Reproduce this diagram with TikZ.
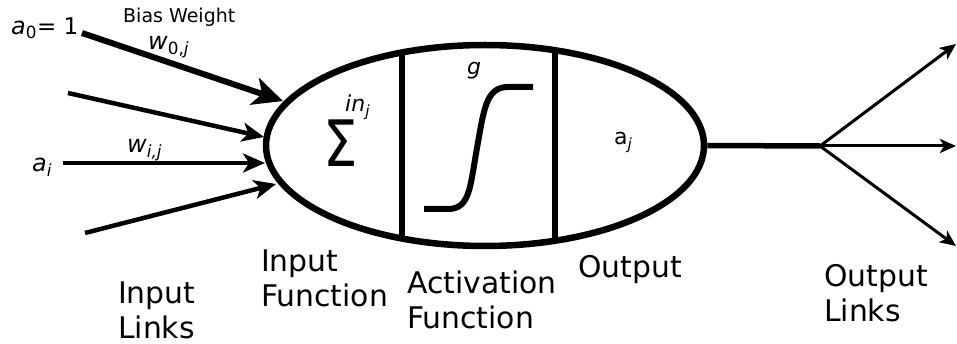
\documentclass[tikz,border=0pt]{standalone}
\usepackage{fontspec}
\setmainfont{DejaVu Sans}
\usetikzlibrary{arrows.meta,shapes.geometric}
\newcommand\fs[1]{\fontsize{#1}{#1}\selectfont}
\tikzset{
  lbl/.style={inner sep=0pt, anchor=base west, align=left, font=\fontsize{29.8}{35}\selectfont},
  var/.style={inner sep=0pt, anchor=base west, font=\fs{24}},
  inbig/.style={line width=6pt, -{Stealth[length=30pt,width=28pt,inset=8pt]}},
  inarr/.style={line width=4.5pt, -{Stealth[length=22pt,width=19pt,inset=6pt]}},
  outarr/.style={line width=3pt, -{Stealth[length=16pt,width=14pt,inset=4pt]}},
  divider/.style={line width=5.5pt},
}
\begin{document}
\begin{tikzpicture}[x=1pt,y=-1pt]
\useasboundingbox (0,0) rectangle (957,344);
% neuron body
\node[ellipse, draw, line width=6.5pt, minimum width=438pt, minimum height=201pt, inner sep=0pt] (neuron) at (485,145.5) {};
\draw[divider] (402,51.5) -- (402,238.5);
\draw[divider] (555,49.2) -- (555,240.8);
% sigmoid
\draw[line width=6pt, line cap=butt] (424,209) -- (448,209) .. controls (470,209) and (470,187) .. (477,148) .. controls (484,109) and (486,87) .. (508,87) -- (533,87);
% inner labels
\node[inner sep=0pt, anchor=base west, font=\fs{64}] (sigma) at (323,167) {\scalebox{0.85}[1]{Σ}};
\node[var, font=\fs{22}] (inj) at (345,112) {\textit{in}\textsubscript{\textit{j}}};
\node[var, font=\fs{22}] (g) at (467,75) {\textit{g}};
\node[var, font=\fs{22}] (aj) at (614,145) {a\textsubscript{\textit{j}}};
% input coordinates
\coordinate (s0) at (82,33);
\coordinate (s1) at (68,93);
\coordinate (s2) at (63,163);
\coordinate (s3) at (85,233);
\coordinate (t0) at (283,101);
\coordinate (t1) at (264,137);
\coordinate (t2) at (265,163);
\coordinate (t3) at (276,184);
\draw[inbig] (s0) -- (t0);
\draw[inarr] (s1) -- (t1);
\draw[inarr] (s2) -- (t2);
\draw[inarr] (s3) -- (t3);
% input labels
\node[var] (a0) at (11,35) {\textit{a}\textsubscript{0}\fs{23}= 1};
\node[inner sep=0pt, anchor=base west, font=\fs{19}] (bias) at (123,23) {Bias Weight};
\node[var] (w0) at (148,50) {\textit{w}\textsubscript{0,\textit{j}}};
\node[var] (ai) at (32,172) {\textit{a}\textsubscript{\textit{i}}};
\node[var] (wi) at (127,153) {\textit{w}\textsubscript{\textit{i,j}}};
% output
\coordinate (split) at (820,146);
\coordinate (o1) at (956,44);
\coordinate (o2) at (956,146);
\coordinate (o3) at (956,246);
\draw[line width=5.5pt] (neuron.east) -- (split);
\draw[outarr] (split) -- (o1);
\draw[outarr] (split) -- (o2);
\draw[outarr] (split) -- (o3);
% bottom labels
\node[lbl] (inlinks) at (118,338) {Input\\Links};
\node[lbl] (infun) at (261,306) {Input\\Function};
\node[lbl] (actfun) at (407,328) {Activation\\Function};
\node[lbl] (outp) at (578,277) {Output};
\node[lbl] (outlinks) at (824,321) {Output\\Links};
\end{tikzpicture}
\end{document}
